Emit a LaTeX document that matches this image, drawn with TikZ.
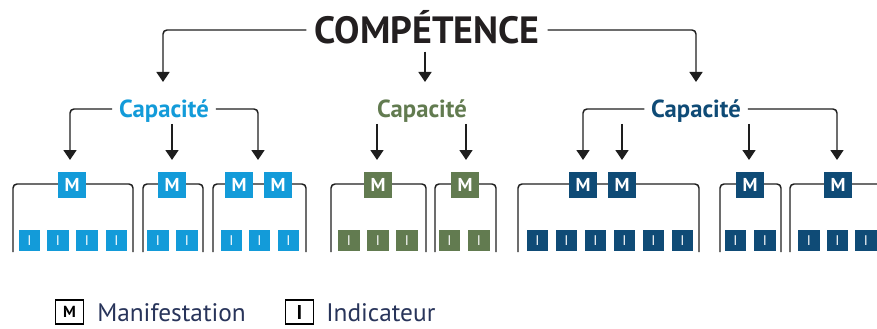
\documentclass[tikz,border=0pt]{standalone}
\usepackage{fontspec}
\setmainfont{PT Sans}
\usetikzlibrary{arrows.meta}
\definecolor{cblue}{HTML}{139BD9}
\definecolor{cgreen}{HTML}{627B50}
\definecolor{cnavy}{HTML}{0F4B76}
\definecolor{cline}{HTML}{1E1E1E}
\definecolor{ctitle}{HTML}{231F20}
\definecolor{clegend}{HTML}{28345A}
\tikzset{
  conn/.style={draw=cline, line width=1.1pt, rounded corners=3pt, -{Triangle[width=9.75pt,length=7.5pt]}},
  bracket/.style={draw=cline, line width=1.1pt, rounded corners=3pt},
  titlenode/.style={text=ctitle, font=\bfseries\fontsize{28.5}{28.5}\selectfont, text height=19.9pt, text depth=0pt, inner xsep=6pt, inner ysep=6pt},
  capnode/.style={text=#1, font=\bfseries\fontsize{18.5}{18.5}\selectfont, text height=12.9pt, text depth=0pt, inner xsep=5pt, inner ysep=4.5pt},
  mbox/.style={fill=#1, text=white, font=\bfseries\fontsize{14}{14}\selectfont, minimum width=21pt, minimum height=19.5pt, inner sep=0pt},
  ibox/.style={fill=#1, text=white, font=\fontsize{10.5}{10.5}\selectfont, minimum width=16pt, minimum height=16pt, inner sep=0pt},
  legbox/.style={draw=black, line width=1.4pt, fill=white, text=black, font=\bfseries\fontsize{12}{12}\selectfont, minimum width=21pt, minimum height=18pt, inner sep=0pt},
  legtext/.style={text=clegend, font=\fontsize{19}{19}\selectfont, inner sep=0pt, anchor=base west}
}
\begin{document}
\begin{tikzpicture}[x=0.75pt,y=-0.75pt]
\useasboundingbox (0,0) rectangle (877,328);
\clip (0,0) rectangle (877,328);
% title
\node[titlenode] (comp) at (427,30) {COMPÉTENCE};
\coordinate (t1) at (163,82);
\coordinate (t2) at (425,82);
\coordinate (t3) at (696,82);
\draw[conn] (comp.west) -| (t1);
\draw[conn] (comp.south -| t2) -- (t2);
\draw[conn] (comp.east) -| (t3);
% capacites
\node[capnode=cblue] (cap1) at (164,109) {Capacité};
\node[capnode=cgreen] (cap2) at (422,109) {Capacité};
\node[capnode=cnavy] (cap3) at (696,109) {Capacité};
\coordinate (a1) at (70,160);
\coordinate (a2) at (172,160);
\coordinate (a3) at (258,160);
\coordinate (a4) at (377,160);
\coordinate (a5) at (466,160);
\coordinate (a6) at (583,160);
\coordinate (a7) at (622,160);
\coordinate (a8) at (749,160);
\coordinate (a9) at (837,160);
\draw[conn] (cap1.west) -| (a1);
\draw[conn] (cap1.south -| a2) -- (a2);
\draw[conn] (cap1.east) -| (a3);
\draw[conn] (cap2.south -| a4) -- (a4);
\draw[conn] (cap2.south -| a5) -- (a5);
\draw[conn] (cap3.west) -| (a6);
\draw[conn] (cap3.south -| a7) -- (a7);
\draw[conn] (cap3.south -| a8) -- (a8);
\draw[conn] (cap3.east) -| (a9);
% brackets
\foreach \l/\r in {13/133,143/203,213/306,331/426,435/496,518/699,720/781,790/900}
  \draw[bracket] (\l,252) -- (\l,184) -- (\r,184) -- (\r,252);
% M boxes
\foreach \x [count=\k] in {72,172,239,278}
  \node[mbox=cblue] (mb\k) at (\x,185) {M};
\foreach \x [count=\k] in {378,465}
  \node[mbox=cgreen] (mg\k) at (\x,185) {M};
\foreach \x [count=\k] in {583,622,750,838}
  \node[mbox=cnavy] (mn\k) at (\x,185) {M};
% I boxes
\foreach \x [count=\k] in {29.5,58,87,116.5,158,187,231.5,259.5,288.5}
  \node[ibox=cblue] (ib\k) at (\x,240.5) {I};
\foreach \x [count=\k] in {349,378,407,449.5,479}
  \node[ibox=cgreen] (ig\k) at (\x,240.5) {I};
\foreach \x [count=\k] in {537.5,566.5,595.5,624.5,653.5,682.5,735.5,765,809,837.5,866}
  \node[ibox=cnavy] (in\k) at (\x,240.5) {I};
% legend
\node[legbox] (legm) at (69.5,312) {M};
\node[legtext] (legmt) at (97,321.5) {Manifestation};
\node[legbox, font=\bfseries\fontsize{15}{15}\selectfont] (legi) at (299.5,312) {I};
\node[legtext] (legit) at (326,321.5) {Indicateur};
\end{tikzpicture}
\end{document}
